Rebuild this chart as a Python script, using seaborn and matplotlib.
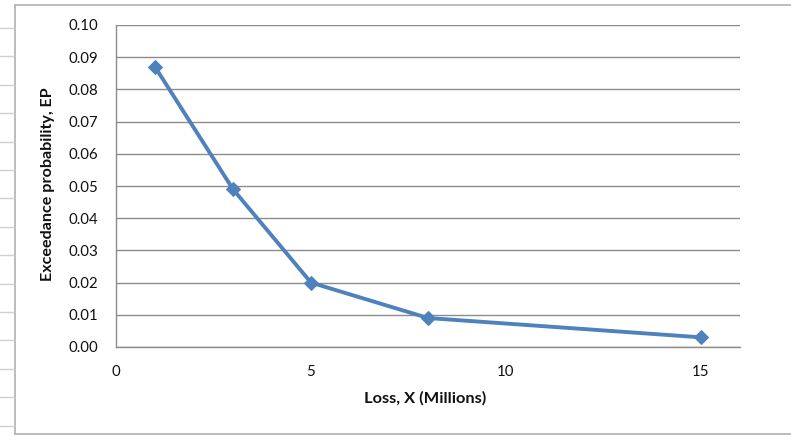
import matplotlib
matplotlib.use("Agg")
import matplotlib.pyplot as plt
from matplotlib.lines import Line2D
import seaborn as sns
import pandas as pd

# Loss amounts (millions) and their exceedance probabilities
loss = [1, 3, 5, 8, 15]
ep = [0.087, 0.049, 0.020, 0.009, 0.003]
x_ticks = [0, 5, 10, 15]
y_ticks = [0.00, 0.01, 0.02, 0.03, 0.04, 0.05, 0.06, 0.07, 0.08, 0.09, 0.10]

sns.set_theme(style="white")
plt.rcParams["font.family"] = ["Lato", "DejaVu Sans"]

W, H = 791, 437
fig = plt.figure(figsize=(W / 100, H / 100), dpi=100)
fig.patch.set_facecolor("white")

ax = fig.add_axes([116 / W, 1 - 347 / H, 624 / W, 322 / H])

df = pd.DataFrame({"Loss": loss, "EP": ep})
sns.lineplot(data=df, x="Loss", y="EP", ax=ax, color="#4F81BD", linewidth=2.8,
             marker="D", markersize=7, markeredgecolor="#4F81BD", zorder=3)

grid_c = "#8C8C8C"
ax.set_xlim(0, 16)
ax.set_ylim(0, 0.10)
ax.set_xticks(x_ticks)
ax.set_xticklabels([str(v) for v in x_ticks])
ax.set_yticks(y_ticks)
ax.set_yticklabels([f"{v:.2f}" for v in y_ticks])
ax.yaxis.grid(True, color=grid_c, linewidth=1.0)
ax.xaxis.grid(False)

for s in ["top", "right"]:
    ax.spines[s].set_visible(False)
for s in ["left", "bottom"]:
    ax.spines[s].set_color(grid_c)
    ax.spines[s].set_linewidth(1.0)

ax.tick_params(axis="both", which="major", direction="out", length=4,
               width=1.0, color=grid_c, labelsize=10.8, labelcolor="#111111")
ax.tick_params(axis="y", pad=9)
ax.tick_params(axis="x", pad=9)

ax.set_xlabel("Loss, X (Millions)", fontsize=11.8, fontweight="bold", color="#111111")
ax.set_ylabel("Exceedance probability, EP", fontsize=11.6, fontweight="bold", color="#111111")
ax.xaxis.label.set_va("center")
ax.yaxis.label.set_va("center")
ax.xaxis.set_label_coords((425 - 116) / 624, -(398 - 347) / 322)
ax.yaxis.set_label_coords(-(116 - 48) / 624, (347 - 184) / 322)

# surrounding frame of the chart object
frame_c = "#B0B0B0"
fig.add_artist(Line2D([15 / W, 15 / W], [1 - 5 / H, 1 - 434 / H], color=frame_c, lw=1.2))
fig.add_artist(Line2D([15 / W, 1.0], [1 - 5 / H, 1 - 5 / H], color=frame_c, lw=1.2))
fig.add_artist(Line2D([15 / W, 1.0], [1 - 434 / H, 1 - 434 / H], color=frame_c, lw=1.2))
# sheet row markers along the left edge
row_c = "#D0D0D0"
for i in range(15):
    yy = 28 + 28.4 * i
    fig.add_artist(Line2D([0, 14 / W], [1 - yy / H, 1 - yy / H], color=row_c, lw=1.0))

fig.savefig("out.png", dpi=100, facecolor="white")
